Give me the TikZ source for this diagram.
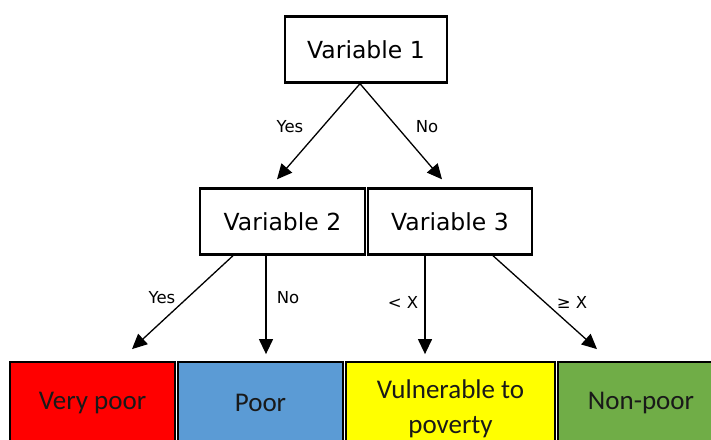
\documentclass[tikz,border=0pt]{standalone}
\usepackage{fontspec}
\setmainfont{DejaVu Sans}
\newfontfamily\carlitofont{Carlito}
\usetikzlibrary{arrows.meta}
\definecolor{vpred}{HTML}{FF0000}
\definecolor{poorblue}{HTML}{5B9BD5}
\definecolor{vulyellow}{HTML}{FFFF00}
\definecolor{npgreen}{HTML}{70AD47}
\tikzset{
  varbox/.style={draw=black, line width=2.4pt, fill=white, inner sep=0pt,
    minimum height=66pt, font=\fontsize{23.5}{28}\selectfont},
  leafbox/.style={draw=black, line width=1.8pt, inner sep=0pt,
    minimum height=82pt, align=center,
    font=\carlitofont\fontsize{27}{35}\selectfont, text=black!90},
  leaftext/.style={inner sep=0pt, align=center,
    font=\carlitofont\fontsize{27}{35}\selectfont, text=black!90},
  conn/.style={line width=1.3pt, -{Triangle[length=15pt,width=14pt]}},
  edgelabel/.style={inner sep=0pt, font=\fontsize{16.5}{19}\selectfont}
}
\begin{document}
\begin{tikzpicture}[x=1pt,y=1pt]
\useasboundingbox[fill=white] (0,0) rectangle (711,-439);
\begin{scope}
\clip (0,0) rectangle (711,-439);
\node[varbox, minimum width=162pt] (v1) at (366,-49.5) {Variable 1};
\node[varbox, minimum width=165pt] (v2) at (282.5,-221.5) {Variable 2};
\node[varbox, minimum width=164pt] (v3) at (450,-221.5) {Variable 3};

\node[leafbox, fill=vpred, minimum width=165pt] (vp) at (92.5,-403) {\raisebox{-2pt}{Very poor}};
\node[leafbox, fill=poorblue, minimum width=165pt] (p) at (260.5,-403) {\raisebox{-2pt}{Poor}};
\node[leafbox, fill=vulyellow, minimum width=209pt] (vu) at (450.5,-403) {};
\node[leaftext] (vut) at (450.5,-409) {Vulnerable to\\poverty};
\node[leafbox, fill=npgreen, minimum width=166pt] (np) at (641,-403) {\raisebox{-2pt}{Non-poor}};
\end{scope}

\draw[conn] ([xshift=-6pt]v1.south) -- ([xshift=-5.5pt,yshift=8pt]v2.north);
\draw[conn] ([xshift=-6pt]v1.south) -- ([xshift=-8pt,yshift=8pt]v3.north);
\draw[conn] ([xshift=-49.5pt]v2.south) -- ([xshift=39.5pt,yshift=12pt]vp.north);
\draw[conn] ([xshift=-16.5pt]v2.south) -- ([xshift=5.5pt,yshift=7pt]p.north);
\draw[conn] ([xshift=-25pt]v3.south) -- ([xshift=-25.5pt,yshift=7pt]vu.north);
\draw[conn] ([xshift=43pt]v3.south) -- ([xshift=-44pt,yshift=12pt]np.north);

\node[edgelabel] (l1) at (290,-127) {Yes};
\node[edgelabel] (l2) at (427,-127) {No};
\node[edgelabel] (l3) at (162,-298) {Yes};
\node[edgelabel] (l4) at (288,-298) {No};
\node[edgelabel] (l5) at (403,-302) {< X};
\node[edgelabel] (l6) at (572,-302) {≥ X};
\end{tikzpicture}
\end{document}
